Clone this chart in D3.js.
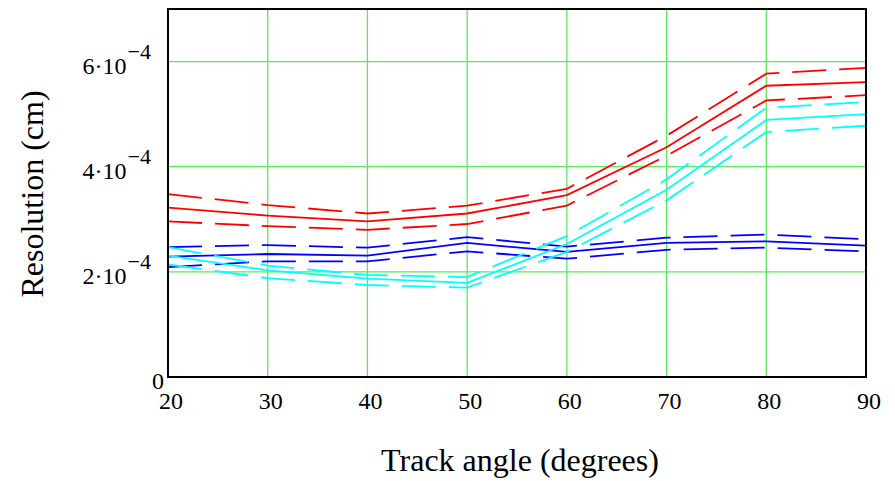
<!DOCTYPE html>
<html>
<head>
<meta charset="utf-8">
<script src="https://cdn.jsdelivr.net/npm/d3@7"></script>
<style>
  body { margin: 0; background: #fff; }
  svg { display: block; }
  .tick-label { font-family: "Liberation Serif", "Times New Roman", serif; font-size: 24px; fill: #000; }
  .title { font-family: "Liberation Serif", "Times New Roman", serif; font-size: 32px; fill: #000; }
</style>
</head>
<body>
<svg id="chart" width="895" height="481"></svg>
<script>
// track angle (degrees)
var angles = [20, 30, 40, 50, 60, 70, 80, 90];

// resolution, in units of 1e-4 cm
var redMid  = [3.22, 3.07, 2.96, 3.11, 3.46, 4.37, 5.54, 5.61];
var redHi   = [3.48, 3.27, 3.11, 3.26, 3.58, 4.59, 5.77, 5.88];
var redLo   = [2.96, 2.87, 2.80, 2.91, 3.26, 4.21, 5.26, 5.36];
var blueMid = [2.29, 2.34, 2.31, 2.55, 2.38, 2.55, 2.58, 2.50];
var blueHi  = [2.47, 2.51, 2.46, 2.66, 2.48, 2.65, 2.71, 2.62];
var blueLo  = [2.09, 2.20, 2.20, 2.39, 2.25, 2.42, 2.46, 2.39];
var cyanMid = [2.31, 2.03, 1.87, 1.79, 2.53, 3.56, 4.89, 5.00];
var cyanHi  = [2.47, 2.12, 1.94, 1.90, 2.68, 3.76, 5.12, 5.23];
var cyanLo  = [2.14, 1.88, 1.75, 1.70, 2.38, 3.36, 4.66, 4.78];

var xTicks = [20, 30, 40, 50, 60, 70, 80, 90];
var yTicks = [0, 2, 4, 6];   // x 1e-4

var svg = d3.select("#chart"),
    margin = {top: 9, right: 29, bottom: 104, left: 168},
    width = +svg.attr("width") - margin.left - margin.right,
    height = +svg.attr("height") - margin.top - margin.bottom,
    g = svg.append("g").attr("transform", "translate(" + margin.left + "," + margin.top + ")");

var x = d3.scaleLinear().domain([20, 90]).range([0, width]),
    y = d3.scaleLinear().domain([0, 7]).range([height, 0]);

var gridColor = "#5be85b";

// grid
g.append("g").selectAll("line.vgrid")
  .data(xTicks.slice(1, -1))
  .enter().append("line")
    .attr("x1", function(d) { return x(d); })
    .attr("x2", function(d) { return x(d); })
    .attr("y1", 0).attr("y2", height)
    .attr("stroke", gridColor).attr("stroke-width", 1.3);

g.append("g").selectAll("line.hgrid")
  .data(yTicks.slice(1))
  .enter().append("line")
    .attr("x1", 0).attr("x2", width)
    .attr("y1", function(d) { return y(d); })
    .attr("y2", function(d) { return y(d); })
    .attr("stroke", gridColor).attr("stroke-width", 1.3);

// series
var line = d3.line()
  .x(function(d, i) { return x(angles[i]); })
  .y(function(d) { return y(d); });

var series = [
  {vals: redHi,   color: "#ff0000", dash: true},
  {vals: redMid,  color: "#ff0000", dash: false},
  {vals: redLo,   color: "#ff0000", dash: true},
  {vals: blueHi,  color: "#0000ff", dash: true},
  {vals: blueMid, color: "#0000ff", dash: false},
  {vals: blueLo,  color: "#0000ff", dash: true},
  {vals: cyanHi,  color: "#00ffff", dash: true},
  {vals: cyanMid, color: "#00ffff", dash: false},
  {vals: cyanLo,  color: "#00ffff", dash: true}
];

g.append("g").selectAll("path")
  .data(series)
  .enter().append("path")
    .attr("d", function(d) { return line(d.vals); })
    .attr("fill", "none")
    .attr("stroke", function(d) { return d.color; })
    .attr("stroke-width", 1.8)
    .attr("stroke-dasharray", function(d) { return d.dash ? "34,13" : null; });

// frame
g.append("rect")
  .attr("x", 0).attr("y", 0)
  .attr("width", width).attr("height", height)
  .attr("fill", "none")
  .attr("stroke", "#000")
  .attr("stroke-width", 2);

// x tick labels
g.append("g").selectAll("text")
  .data(xTicks)
  .enter().append("text")
    .attr("class", "tick-label")
    .attr("x", function(d) { return x(d) + 3; })
    .attr("y", height + 32)
    .attr("text-anchor", "middle")
    .text(function(d) { return d; });

// y tick labels, mathcad style  6·10^-4
var yl = g.append("g").selectAll("text")
  .data(yTicks)
  .enter().append("text")
    .attr("class", "tick-label")
    .attr("x", function(d) { return d == 0 ? -4 : -17; })
    .attr("y", function(d) { return y(d) + 12; })
    .attr("text-anchor", "end");

yl.filter(function(d) { return d == 0; }).text("0");
yl.filter(function(d) { return d != 0; })
  .text(function(d) { return d + "\u00b710"; })
  .append("tspan")
    .attr("dy", -15)
    .attr("dx", 1)
    .attr("font-size", "22px")
    .text("\u22124");

// titles
svg.append("text")
  .attr("class", "title")
  .attr("text-anchor", "middle")
  .attr("transform", "translate(43,194) rotate(-90)")
  .text("Resolution (cm)");

svg.append("text")
  .attr("class", "title")
  .attr("x", 520)
  .attr("y", 471)
  .attr("text-anchor", "middle")
  .text("Track angle (degrees)");

// caption, cut off at the bottom of the picture as in the source
svg.append("text")
  .attr("class", "title")
  .attr("x", 20)
  .attr("y", 516)
  .attr("font-size", "56px")
  .text("Рис. 27");
</script>
</body>
</html>
